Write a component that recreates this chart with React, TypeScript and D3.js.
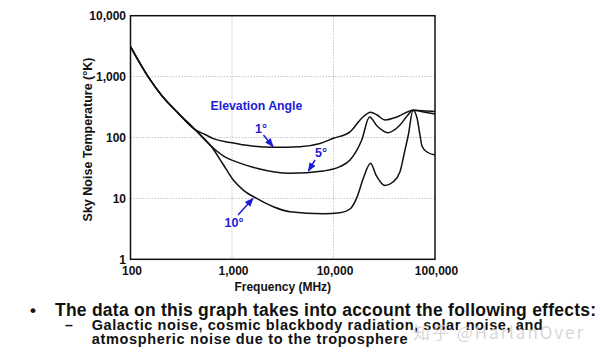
import React from 'react';
import * as d3 from 'd3';

// Axis ticks
const xTicks = [100, 1000, 10000, 100000];
const xTickLabels = ['100', '1,000', '10,000', '100,000'];
const yTicks = [1, 10, 100, 1000, 10000];
const yTickLabels = ['1', '10', '100', '1,000', '10,000'];

// Shared galactic-noise segment (MHz, K)
const commonFreq = [100, 149, 201, 294, 432];
const commonTemp = [3100, 996, 499, 253, 135];

// 1° elevation
const freq1 = [542, 676, 955, 1334, 2552, 4677, 7360, 9950, 14550, 18970, 23200, 26850, 32150, 43200, 60700, 82800, 100000];
const temp1 = [112, 94, 83, 75, 69, 70.6, 79.7, 97, 124, 207, 259, 234, 194, 221, 280, 272, 267];

// 5° elevation
const freq5 = [621, 820, 1199, 1751, 3727, 7940, 11590, 14550, 18970, 22650, 26850, 34400, 45200, 53000, 60700, 82800, 100000];
const temp5 = [72.5, 50, 38, 31.2, 25.8, 28.2, 33.2, 42.7, 91, 217, 154, 120, 160, 225, 280, 257, 243];

// 10° elevation
const freq10 = [621, 820, 1030, 1291, 1751, 2552, 3727, 7940, 11590, 14550, 17060, 19670, 23200, 26240, 32150, 38550, 45200, 50600, 54600, 60700, 66500, 71100, 74400, 83400, 100000];
const temp10 = [72.5, 36, 20, 13.7, 10, 7.3, 6.05, 5.6, 5.8, 6.7, 10.5, 21.4, 37.7, 24.2, 16.3, 18.6, 27.4, 62.3, 110, 280, 209, 110, 72.5, 57.8, 51.6];

// Annotations: label, label position (MHz, K), arrow from -> to (MHz, K)
const annLabels = ['1°', '5°', '10°'];
const annLabelPos: [number, number][] = [[1932, 118.6], [7530, 47.8], [1047, 3.39]];
const annArrowFrom: [number, number][] = [[2042, 110], [6570, 42.7], [1146, 5.34]];
const annArrowTo: [number, number][] = [[2535, 71], [5670, 28.2], [1610, 9.96]];
const titleAnnotation = 'Elevation Angle';
const titleAnnotationPos: [number, number] = [1743, 283];

const FONT = '"Liberation Sans", Arial, Helvetica, sans-serif';
const BLUE = '#1c1cd6';

export default function App() {
  const x = d3.scaleLog().domain([100, 100000]).range([130.5, 435]);
  const y = d3.scaleLog().domain([1, 10000]).range([259.3, 15.7]);

  const line = d3
    .line<[number, number]>()
    .x((d) => x(d[0]))
    .y((d) => y(d[1]))
    .curve(d3.curveMonotoneX);

  const mk = (f: number[], t: number[]) => {
    const pts: [number, number][] = commonFreq.map((v, i) => [v, commonTemp[i]]);
    f.forEach((v, i) => pts.push([v, t[i]]));
    return pts;
  };
  const series = [mk(freq1, temp1), mk(freq5, temp5), mk(freq10, temp10)];

  const [x0, x1] = x.range();
  const [y0, y1] = y.range();

  return (
    <svg
      width={600}
      height={356}
      style={{ position: 'absolute', left: 0, top: 0, background: '#fff' }}
      fontFamily={FONT}
    >
      <defs>
        <marker id="arr" viewBox="0 0 10 10" refX="9" refY="5" markerWidth="6" markerHeight="6" orient="auto">
          <path d="M0,1 L10,5 L0,9 z" fill={BLUE} />
        </marker>
      </defs>
      <rect x={0} y={0} width={600} height={356} fill="#fff" />
      {/* grid */}
      {xTicks.slice(1, -1).map((t) => (
        <line key={'gx' + t} x1={x(t)} x2={x(t)} y1={y1} y2={y0} stroke="#c4c4c4" strokeWidth={1} strokeDasharray="1.5,1.5" />
      ))}
      {yTicks.slice(1, -1).map((t) => (
        <line key={'gy' + t} x1={x0} x2={x1} y1={y(t)} y2={y(t)} stroke="#c4c4c4" strokeWidth={1} strokeDasharray="1.5,1.5" />
      ))}
      {/* curves */}
      {series.map((s, i) => (
        <path key={i} d={line(s) || ''} fill="none" stroke="#111" strokeWidth={1.5} />
      ))}
      {/* frame */}
      <rect x={x0} y={y1} width={x1 - x0} height={y0 - y1} fill="none" stroke="#111" strokeWidth={1.5} />
      {/* tick labels */}
      {xTicks.map((t, i) => (
        <text key={'xt' + t} x={x(t) + 1.5} y={275} textAnchor="middle" fontSize={12} fontWeight="bold" fill="#111">
          {xTickLabels[i]}
        </text>
      ))}
      {yTicks.map((t, i) => (
        <text key={'yt' + t} x={126} y={y(t) + 4.3} textAnchor="end" fontSize={12} fontWeight="bold" fill="#111">
          {yTickLabels[i]}
        </text>
      ))}
      {/* axis titles */}
      <text x={(x0 + x1) / 2} y={291} textAnchor="middle" fontSize={12} fontWeight="bold" fill="#111">
        Frequency (MHz)
      </text>
      <text
        transform={`translate(91.5,${(y0 + y1) / 2 + 2}) rotate(-90)`}
        textAnchor="middle"
        fontSize={12.5}
        fontWeight="bold"
        fill="#111"
      >
        Sky Noise Temperature (°K)
      </text>
      {/* annotations */}
      <text x={x(titleAnnotationPos[0])} y={y(titleAnnotationPos[1])} textAnchor="middle" fontSize={12.3} fontWeight="bold" fill={BLUE}>
        {titleAnnotation}
      </text>
      {annLabels.map((l, i) => (
        <g key={'a' + i}>
          <text x={x(annLabelPos[i][0])} y={y(annLabelPos[i][1])} textAnchor="middle" fontSize={12.5} fontWeight="bold" fill={BLUE}>
            {l}
          </text>
          <line
            x1={x(annArrowFrom[i][0])}
            y1={y(annArrowFrom[i][1])}
            x2={x(annArrowTo[i][0])}
            y2={y(annArrowTo[i][1])}
            stroke={BLUE}
            strokeWidth={1.5}
            markerEnd="url(#arr)"
          />
        </g>
      ))}
      {/* bottom text */}
      <text x={30} y={316} fontSize={17} fontWeight="bold" fill="#111">•</text>
      <text x={55} y={316} fontSize={17.5} fontWeight="bold" fill="#111" textLength={541} lengthAdjust="spacing">
        The data on this graph takes into account the following effects:
      </text>
      <text x={65} y={330} fontSize={14} fontWeight="bold" fill="#111">–</text>
      <text x={91.7} y={330} fontSize={14.5} fontWeight="bold" fill="#111" textLength={451} lengthAdjust="spacing">
        Galactic noise, cosmic blackbody radiation, solar noise, and
      </text>
      <text x={91.7} y={343.5} fontSize={14.5} fontWeight="bold" fill="#111" textLength={316} lengthAdjust="spacing">
        atmospheric noise due to the troposphere
      </text>
      <text x={413} y={339} fontSize={17} fill="#d0d0d0" fillOpacity={0.85} textLength={170} lengthAdjust="spacing" fontFamily={'"Noto Sans CJK SC", "Noto Sans", sans-serif'}>
        知乎 @HarlanOver
      </text>
    </svg>
  );
}
